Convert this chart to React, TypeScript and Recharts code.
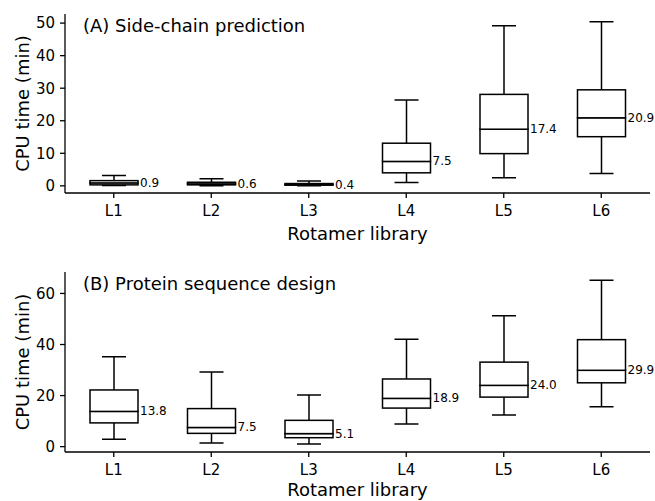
import { ComposedChart, Bar, XAxis, YAxis } from "recharts";

const categories = ["L1", "L2", "L3", "L4", "L5", "L6"];

// (A) side-chain prediction, CPU minutes
const sideLow = [0.1, 0.05, 0.05, 1.0, 2.5, 3.8];
const sideQ1 = [0.3, 0.3, 0.2, 4.0, 9.9, 15.1];
const sideMedian = [0.9, 0.6, 0.4, 7.5, 17.4, 20.9];
const sideQ3 = [1.6, 1.1, 0.7, 13.1, 28.1, 29.5];
const sideHigh = [3.2, 2.2, 1.5, 26.4, 49.2, 50.4];
const sideTicks = [0, 10, 20, 30, 40, 50];

// (B) protein sequence design, CPU minutes
const designLow = [2.9, 1.4, 1.0, 8.9, 12.4, 15.6];
const designQ1 = [9.3, 5.2, 3.5, 15.1, 19.4, 25.0];
const designMedian = [13.8, 7.5, 5.1, 18.9, 24.0, 29.9];
const designQ3 = [22.2, 14.9, 10.3, 26.5, 33.1, 41.9];
const designHigh = [35.2, 29.2, 20.2, 42.1, 51.3, 65.2];
const designTicks = [0, 20, 40, 60];

const FONT = "'DejaVu Sans', sans-serif";
const INK = "#000";
const LW = 1.5;

function buildRows(low: number[], q1: number[], med: number[], q3: number[], high: number[]) {
  return categories.map((name, i) => ({
    name,
    median: med[i],
    base: low[i],
    lowWhisker: q1[i] - low[i],
    lowBox: med[i] - q1[i],
    highBox: q3[i] - med[i],
    highWhisker: high[i] - q3[i],
  }));
}

function LowWhisker(p: any) {
  const cx = p.x + p.width / 2;
  const bot = p.y + p.height;
  const cap = p.width / 4;
  return (
    <g stroke={INK} strokeWidth={LW}>
      <line x1={cx} x2={cx} y1={p.y} y2={bot} />
      <line x1={cx - cap} x2={cx + cap} y1={bot} y2={bot} />
    </g>
  );
}

function HighWhisker(p: any) {
  const cx = p.x + p.width / 2;
  const cap = p.width / 4;
  return (
    <g stroke={INK} strokeWidth={LW}>
      <line x1={cx} x2={cx} y1={p.y} y2={p.y + p.height} />
      <line x1={cx - cap} x2={cx + cap} y1={p.y} y2={p.y} />
    </g>
  );
}

function LowBox(p: any) {
  return (
    <g>
      <rect x={p.x} y={p.y} width={p.width} height={p.height} fill="#fff" stroke={INK} strokeWidth={LW} />
      <text x={p.x + p.width + 2} y={p.y} dominantBaseline="central" fontSize={12} fill={INK}>
        {p.payload.median.toFixed(1)}
      </text>
    </g>
  );
}

function HighBox(p: any) {
  return <rect x={p.x} y={p.y} width={p.width} height={p.height} fill="#fff" stroke={INK} strokeWidth={LW} />;
}

interface PanelProps {
  title: string;
  rows: any[];
  domain: [number, number];
  ticks: number[];
  top: number;
  height: number;
  marginTop: number;
  axisHeight: number;
  labelGap: number;
}

function Panel({ title, rows, domain, ticks, top, height, marginTop, axisHeight, labelGap }: PanelProps) {
  const plotBottom = height - axisHeight;
  const plotMid = (marginTop + plotBottom) / 2;
  return (
    <div style={{ position: "absolute", left: 0, top, width: 655, height }}>
      <ComposedChart
        width={655}
        height={height}
        data={rows}
        margin={{ top: marginTop, right: 5, bottom: 0, left: 0 }}
      >
        <XAxis
          dataKey="name"
          height={axisHeight}
          interval={0}
          tickSize={5}
          tickMargin={7}
          tick={{ fontSize: 15, fill: INK }}
          axisLine={{ stroke: INK, strokeWidth: 1.3 }}
          tickLine={{ stroke: INK, strokeWidth: 1.3 }}
        />
        <YAxis
          type="number"
          width={65}
          domain={domain}
          ticks={ticks}
          allowDataOverflow
          tickSize={5}
          tickMargin={5}
          tick={{ fontSize: 15, fill: INK }}
          axisLine={{ stroke: INK, strokeWidth: 1.3 }}
          tickLine={{ stroke: INK, strokeWidth: 1.3 }}
        />
        <Bar dataKey="base" stackId="b" barSize={48} fill="none" isAnimationActive={false} />
        <Bar dataKey="lowWhisker" stackId="b" barSize={48} shape={LowWhisker} isAnimationActive={false} />
        <Bar dataKey="lowBox" stackId="b" barSize={48} shape={LowBox} isAnimationActive={false} />
        <Bar dataKey="highBox" stackId="b" barSize={48} shape={HighBox} isAnimationActive={false} />
        <Bar dataKey="highWhisker" stackId="b" barSize={48} shape={HighWhisker} isAnimationActive={false} />
        <text x={83} y={marginTop + 18} fontSize={18} fill={INK}>
          {title}
        </text>
        <text x={357.5} y={plotBottom + labelGap} fontSize={18} fill={INK} textAnchor="middle">
          Rotamer library
        </text>
        <text
          x={28.5}
          y={plotMid}
          fontSize={18}
          fill={INK}
          textAnchor="middle"
          transform={`rotate(-90 28.5 ${plotMid})`}
        >
          CPU time (min)
        </text>
      </ComposedChart>
    </div>
  );
}

export default function App() {
  return (
    <div
      style={{
        position: "absolute",
        left: 0,
        top: 0,
        width: 655,
        height: 501,
        background: "#fff",
        fontFamily: FONT,
      }}
    >
      <Panel
        title="(A) Side-chain prediction"
        rows={buildRows(sideLow, sideQ1, sideMedian, sideQ3, sideHigh)}
        domain={[-2.2, 52.8]}
        ticks={sideTicks}
        top={0}
        height={250}
        marginTop={14}
        axisHeight={57}
        labelGap={46.5}
      />
      <Panel
        title="(B) Protein sequence design"
        rows={buildRows(designLow, designQ1, designMedian, designQ3, designHigh)}
        domain={[-2.1, 68.4]}
        ticks={designTicks}
        top={250}
        height={251}
        marginTop={22}
        axisHeight={49}
        labelGap={44}
      />
    </div>
  );
}
